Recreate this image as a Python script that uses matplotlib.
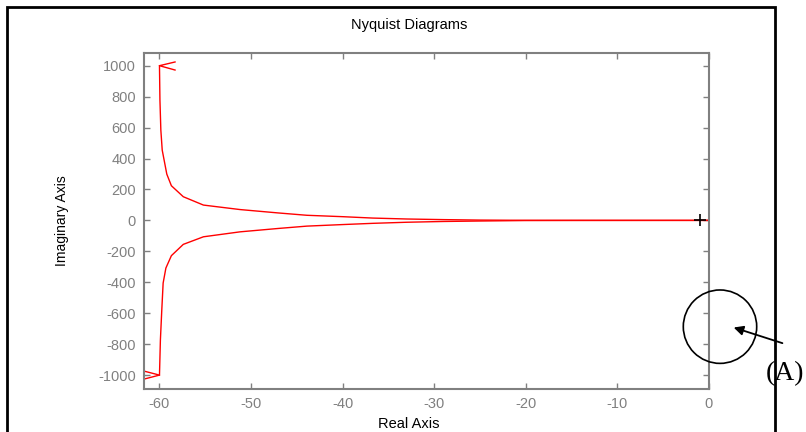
import matplotlib
matplotlib.use("Agg")
import matplotlib.pyplot as plt
from matplotlib.patches import Rectangle, Ellipse
import numpy as np

# upper branch (omega from 0+ upwards)
upper_re = [-60.0, -59.95, -59.85, -59.7, -59.2, -58.7, -57.4, -55.2, -51.2,
            -47.0, -43.9, -40.0, -36.7, -33.0, -29.0, -25.0, -20.0, -15.0,
            -10.0, -4.0, -1.0, 0.0]
upper_im = [1000, 778, 583, 454, 299, 224, 153, 99, 70, 48, 33, 24, 15, 9, 5,
            2, 0.5, 0.3, 0.2, 0.1, 0.0, 0.0]

# lower branch (mirror image)
lower_re = [-60.0, -59.9, -59.75, -59.6, -59.3, -58.7, -57.4, -55.2, -51.2,
            -47.0, -43.9, -40.0, -36.7, -33.0, -29.0, -25.0, -20.0, -15.0,
            -10.0, -4.0, -1.0, 0.0]
lower_im = [-1000, -774, -582, -405, -308, -228, -155, -106, -74, -52, -37,
            -27, -19, -12, -7, -4, -1, -0.5, -0.3, -0.1, 0.0, 0.0]

# arrowheads drawn as two short strokes
arrow_top_re = [-58.3, -60.0, -58.3]
arrow_top_im = [1024, 1000, 972]
arrow_bot_re = [-61.7, -60.0, -61.7]
arrow_bot_im = [-974, -1000, -1026]

crit_re, crit_im = -1.0, 0.0

x_ticks = [-60, -50, -40, -30, -20, -10, 0]
y_ticks = [-1000, -800, -600, -400, -200, 0, 200, 400, 600, 800, 1000]

plt.rcParams["font.family"] = ["Liberation Sans", "DejaVu Sans"]
plt.rcParams["axes.unicode_minus"] = False
grey = "#808080"

fig = plt.figure(figsize=(8.06, 4.32), dpi=100)
ax = fig.add_axes([0.179, 0.0995, 0.7006, 0.7778])

ax.plot(upper_re, upper_im, color="red", lw=1.0)
ax.plot(lower_re, lower_im, color="red", lw=1.0)
ax.plot(arrow_top_re, arrow_top_im, color="red", lw=1.0)
ax.plot(arrow_bot_re, arrow_bot_im, color="red", lw=1.0)
ax.plot(crit_re, crit_im, marker="+", color="black", ms=8, mew=1.2)

ax.set_xlim(-61.66, 0)
ax.set_ylim(-1090, 1082)
ax.set_xticks(x_ticks)
ax.set_yticks(y_ticks)
ax.tick_params(direction="in", top=True, right=True, length=4, width=1,
               color=grey, labelcolor=grey, labelsize=10.5, pad=6)
for s in ax.spines.values():
    s.set_color(grey)
    s.set_linewidth(1.5)

fig.text(0.5074, 0.942, "Nyquist Diagrams", ha="center", va="center",
         fontsize=10.5)
fig.text(0.5074, 0.0185, "Real Axis", ha="center", va="center",
         fontsize=10.5)
fig.text(0.077, 0.49, "Imaginary Axis", ha="center", va="center",
         rotation=90, fontsize=10)

# outer frame
fig.add_artist(Rectangle((7 / 806, -0.1), 768 / 806, 1.1 - 7 / 432,
                         transform=fig.transFigure, fill=False,
                         edgecolor="black", lw=2, clip_on=False))

# annotation circle, arrow and label
fig.add_artist(Ellipse((0.8933, 0.2438), 73.4 / 806, 73.4 / 432,
                       transform=fig.transFigure, fill=False,
                       edgecolor="black", lw=1.2))
fig.add_artist(plt.Annotation("", xy=(0.907, 0.2438), xytext=(0.974, 0.2037),
                              xycoords="figure fraction",
                              textcoords="figure fraction",
                              arrowprops=dict(arrowstyle="-|>", color="black",
                                              lw=1.3, mutation_scale=14)))
fig.text(0.9504, 0.135, "(A)", ha="left", va="center", fontsize=20,
         family="Liberation Serif")

fig.savefig("out.png", dpi=100)
